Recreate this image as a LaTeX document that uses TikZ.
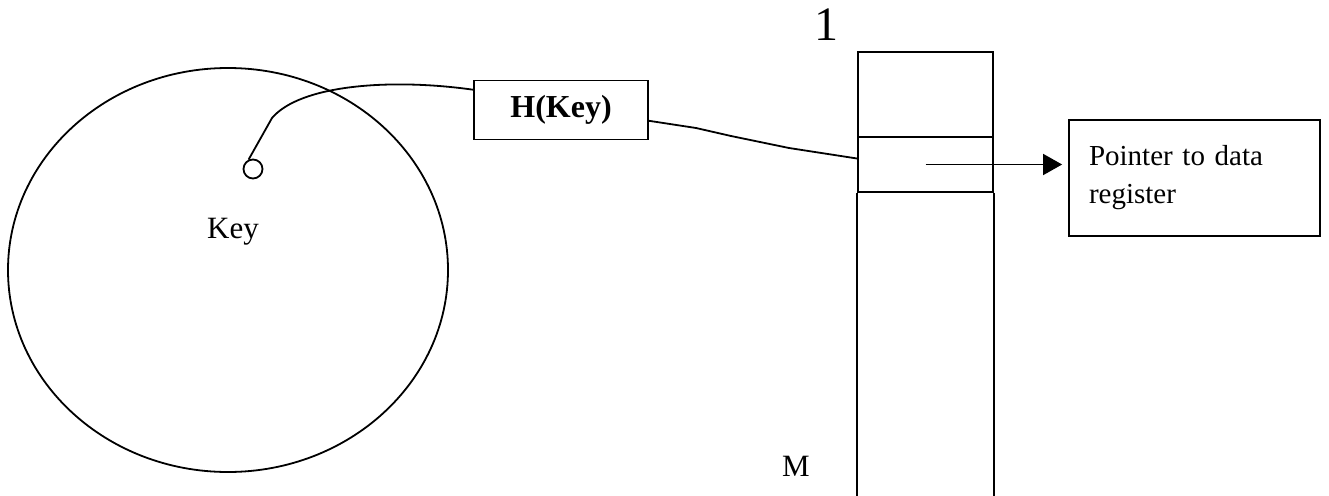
\documentclass[tikz,border=0pt]{standalone}
\usepackage{fontspec}
\setmainfont{Liberation Serif}
\usetikzlibrary{shapes.geometric,arrows.meta}

\begin{document}
\begin{tikzpicture}[x=1pt,y=-1pt,line width=1.8pt,
    box/.style={draw,rectangle,inner sep=0pt},
    txt/.style={font=\fontsize{31}{36}\selectfont}]
      \useasboundingbox (0,0) rectangle (1329,495);

      % set of keys
      \node[draw,ellipse,minimum width=440,minimum height=404,inner sep=0pt] (keyset) at (228,270) {};
      \node[txt] (keylbl) at (233,232) {Key};
      \node[draw,circle,minimum size=19,inner sep=0pt] (keydot) at (253,169) {};

      % hash function
      \node[box,minimum width=174,minimum height=59,font=\fontsize{32}{36}\selectfont\bfseries] (hkey) at (561,110) {H(Key)};

      % table 1..M
      \node[box,minimum width=135,minimum height=85] (celltop) at (925.5,94.5) {};
      \node[box,minimum width=135,minimum height=55] (slot) at (925.5,164.5) {};
      \draw (slot.south west) -- ++(0,310);
      \draw (slot.south east) -- ++(0,310);
      \node[font=\fontsize{48}{50}\selectfont] (first) at (826,25) {1};
      \node[txt] (last) at (796,466) {M};

      \node[box,minimum width=251,minimum height=116,align=left,text width=211,font=\fontsize{29}{38}\selectfont] (ptr) at (1194.5,178) {Pointer to data\\register\\[-8pt]};

      \draw (hkey.167) .. controls (390,78) and (300,85) .. (272,118) -- (keydot.115);
      \draw (hkey.-7) -- (696,128) -- (731,136) -- (789,148) -- (slot.175);
      \draw[-{Triangle[length=19pt,width=21pt]},shorten >=6pt] (slot.center) -- (slot.center -| ptr.west);
    \end{tikzpicture}
\end{document}
